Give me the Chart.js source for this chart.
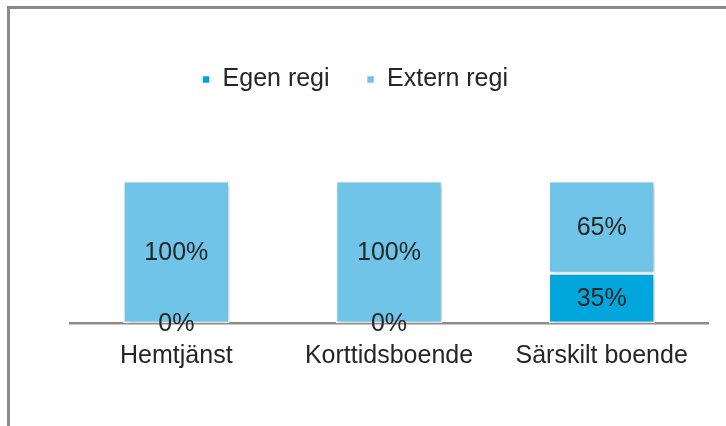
<!DOCTYPE html>
<html lang="sv">
  <head>
    <meta charset="UTF-8" />
    <title>Egen och extern regi</title>
    <script src="https://cdn.jsdelivr.net/npm/chart.js"></script>
    <style>
      body { margin: 0; background: #fff; }
      #frame {
        position: absolute; left: 7px; top: 6px; width: 730px; height: 430px;
        border-top: 3px solid #8a8a8a; border-left: 3px solid #8a8a8a;
      }
      #wrap { position: absolute; left: 0; top: 0; width: 726px; height: 426px; }
    </style>
  </head>
  <body>
    <div id="frame"></div>
    <div id="wrap"><canvas id="regiChart" width="726" height="426"></canvas></div>

    <script>
      const categories = ['Hemtjänst', 'Korttidsboende', 'Särskilt boende'];
      const egenRegi = [0, 0, 35];
      const externRegi = [100, 100, 65];

      const textColor = '#262626';
      const fontFamily = '"Liberation Sans", Arial, sans-serif';

      // push the plot area down below the legend, legend sits a bit left of centre
      const legendSpacer = {
        id: 'legendSpacer',
        beforeInit(chart) {
          const fit = chart.legend.fit;
          chart.legend.fit = function () {
            fit.bind(chart.legend)();
            this.height += 79;
          };
        },
        afterLayout(chart) {
          chart.legend.left -= 34;
          chart.legend.right -= 34;
        },
      };

      // soft shadow behind the bars
      const barShadow = {
        id: 'barShadow',
        beforeDatasetsDraw(chart) {
          const ctx = chart.ctx;
          ctx.save();
          ctx.shadowColor = 'rgba(0,0,0,0.25)';
          ctx.shadowBlur = 5;
          ctx.shadowOffsetX = 2;
          ctx.shadowOffsetY = 1;
        },
        afterDatasetsDraw(chart) {
          chart.ctx.restore();
        },
      };

      // value labels in the middle of each segment
      const valueLabels = {
        id: 'valueLabels',
        afterDraw(chart) {
          const ctx = chart.ctx;
          ctx.save();
          ctx.font = '25px ' + fontFamily;
          ctx.fillStyle = textColor;
          ctx.textAlign = 'center';
          ctx.textBaseline = 'middle';
          chart.data.datasets.forEach((ds, i) => {
            chart.getDatasetMeta(i).data.forEach((bar, j) => {
              const p = bar.getCenterPoint();
              ctx.fillText(ds.data[j] + '%', p.x, p.y + 1);
            });
          });
          ctx.restore();
        },
      };

      const ctx = document.getElementById('regiChart').getContext('2d');
      new Chart(ctx, {
        type: 'bar',
        data: {
          labels: categories,
          datasets: [
            {
              label: 'Egen regi',
              data: egenRegi,
              backgroundColor: '#00a6dc',
              borderColor: '#ffffff',
              borderWidth: 1.5,
              borderSkipped: false,
            },
            {
              label: 'Extern regi',
              data: externRegi,
              backgroundColor: '#6fc4e8',
              borderColor: '#ffffff',
              borderWidth: 1.5,
              borderSkipped: false,
            },
          ],
        },
        options: {
          responsive: false,
          animation: false,
          events: [],
          layout: { padding: { top: 30, left: 70, right: 18, bottom: 45 } },
          datasets: { bar: { categoryPercentage: 1, barPercentage: 0.5 } },
          scales: {
            x: {
              stacked: true,
              grid: { display: false },
              border: { display: true, color: '#8c8c8c', width: 2.5 },
              ticks: { color: textColor, font: { size: 25, family: fontFamily }, padding: 10 },
            },
            y: { stacked: true, display: false, min: 0, max: 100 },
          },
          plugins: {
            tooltip: { enabled: false },
            legend: {
              position: 'top',
              labels: {
                boxWidth: 8,
                boxHeight: 8,
                padding: 37,
                color: textColor,
                font: { size: 25, family: fontFamily },
              },
            },
          },
        },
        plugins: [legendSpacer, barShadow, valueLabels],
      });
    </script>
  </body>
</html>
